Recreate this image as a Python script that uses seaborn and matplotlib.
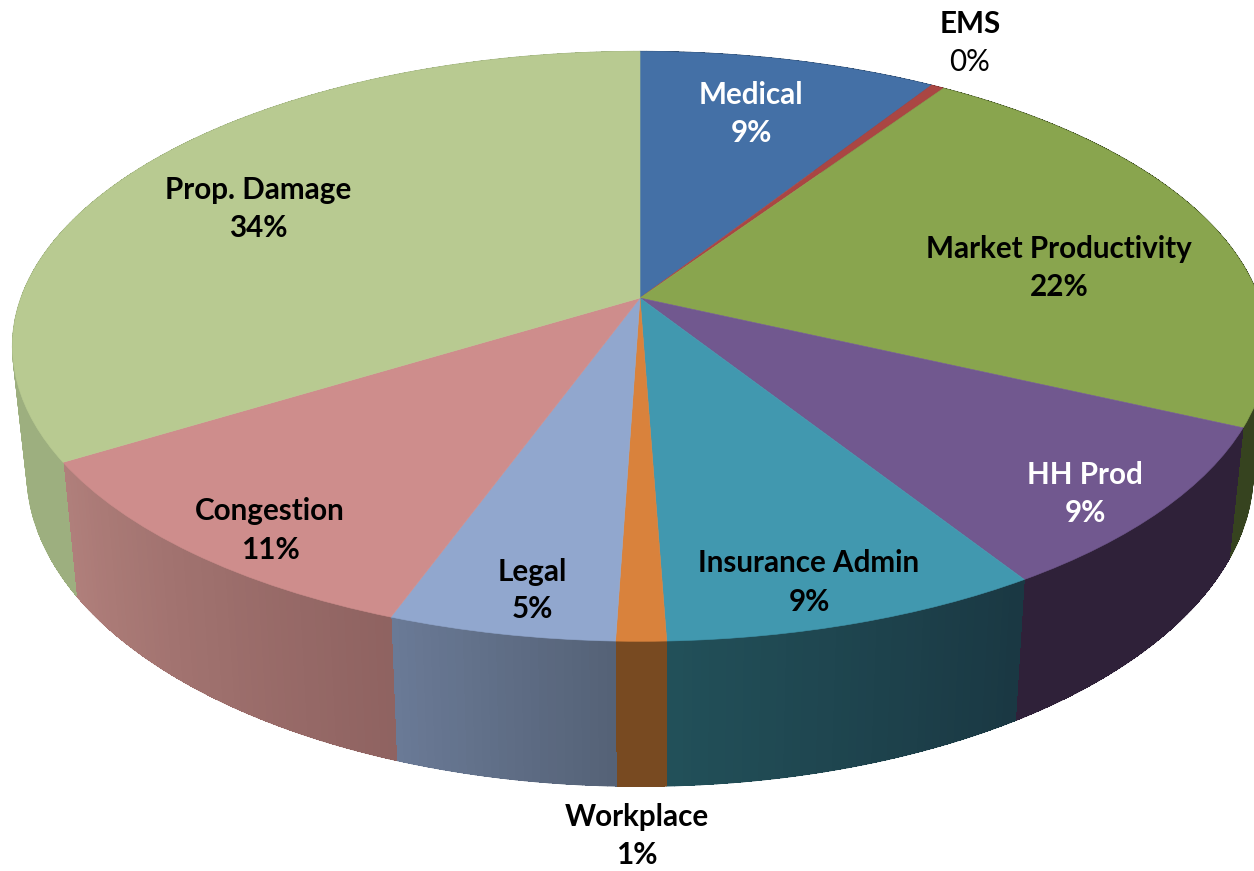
import numpy as np
import matplotlib
matplotlib.use("Agg")
import matplotlib.pyplot as plt
from matplotlib.collections import PolyCollection
from matplotlib.transforms import Transform
import seaborn as sns

categories = ["Medical", "EMS", "Market Productivity", "HH Prod", "Insurance Admin",
              "Workplace", "Legal", "Congestion", "Prop. Damage"]
shares = [9.0, 0.4, 22.5, 9.1, 8.4, 1.1, 5.0, 10.7, 33.75]
pct_labels = ["9%", "0%", "22%", "9%", "9%", "1%", "5%", "11%", "34%"]
top_colors = ["#4470A6", "#AA4643", "#89A54E", "#71588F", "#4198AF",
              "#D9823C", "#91A7CE", "#CE8D8C", "#B8CA91"]
wall_left = ["#2A4463", "#672A28", "#36431F", "#2F2139", "#225059",
             "#784A21", "#6A7A96", "#B07F7B", "#9DAF7F"]
wall_right = ["#2A4463", "#672A28", "#36431F", "#2F2139", "#1A3843",
              "#784A21", "#556277", "#8F6361", "#9DAF7F"]
label_x = [751, 970, 1059, 1085, 809, 637, 532, 270, 258]
name_y = [104, 33, 258, 484, 572, 826, 581, 520, 199]
pct_y = [142, 71, 296, 522, 611, 864, 618, 559, 237]
text_colors = ["white", "black", "black", "white", "black", "black", "black", "black", "black"]
pct_weights = ["bold", "normal", "bold", "bold", "bold", "bold", "bold", "bold", "bold"]

# Perspective view of the pie's top face: centre, half-width, height and foreshortening
CX, CY, AX_U, BX_V, PERSP = 640.0, 298.0, 619.0, 287.0, 0.164
# Lower rim relative to the upper rim
RIM_X, RIM_Y, FRONT_TOP, FRONT_BOTTOM = 0.977, 1.065, 642.0, 787.0


class Perspective(Transform):
    input_dims = 2
    output_dims = 2

    def transform_non_affine(self, values):
        u, v = np.asarray(values, dtype=float).T
        w = 1 + PERSP * v
        return np.column_stack([CX + AX_U * u / w, CY - BX_V * v / w])


sns.set_theme(style="white")
plt.rcParams["font.family"] = ["Lato", "DejaVu Sans"]

fig = plt.figure(figsize=(12.54, 8.71), dpi=100, facecolor="white")
ax = fig.add_axes([0, 0, 1, 1])
wedges, _ = ax.pie(shares, colors=top_colors, startangle=90, counterclock=False,
                   wedgeprops={"linewidth": 0.4})
ax.set_aspect("auto")
ax.set_xlim(0, 1254)
ax.set_ylim(871, 0)
ax.set_axis_off()

persp = Perspective()
for w, c in zip(wedges, top_colors):
    w.set_edgecolor(c)
    w.set_transform(persp + ax.transData)
    w.set_zorder(5)

# Side wall: antialiased strips give the silhouette, hard-edged strips on top avoid seams
for w, cl, cr in zip(wedges, wall_left, wall_right):
    n = max(4, int((w.theta2 - w.theta1) * 1.5))
    th = np.radians(np.linspace(w.theta1, w.theta2, n + 1))
    upper = persp.transform(np.column_stack([np.cos(th), np.sin(th)]))
    lower = np.column_stack([CX + RIM_X * (upper[:, 0] - CX),
                             FRONT_BOTTOM + RIM_Y * (upper[:, 1] - FRONT_TOP)])
    pal = sns.blend_palette([cl, cr], n)
    quads = [[upper[i], upper[i + 1], lower[i + 1], lower[i]] for i in range(n)]
    ax.add_collection(PolyCollection(quads, facecolors=pal, edgecolors=pal,
                                     linewidths=0.8, zorder=2), autolim=False)
    ax.add_collection(PolyCollection(quads, facecolors=pal, edgecolors="none", linewidths=0,
                                     antialiaseds=False, zorder=3), autolim=False)

FS = 21.3
for name, pct, x, y1, y2, tc, pw in zip(categories, pct_labels, label_x, name_y, pct_y,
                                        text_colors, pct_weights):
    ax.text(x, y1, name, ha="center", va="baseline", color=tc, fontsize=FS,
            fontweight="bold", zorder=10)
    ax.text(x, y2, pct, ha="center", va="baseline", color=tc, fontsize=FS,
            fontweight=pw, zorder=10)

fig.savefig("out.png", dpi=100, facecolor="white")
